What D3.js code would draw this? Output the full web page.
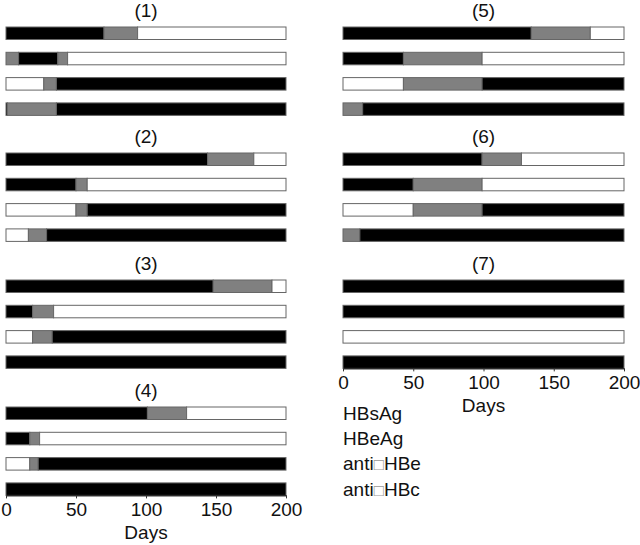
<!DOCTYPE html>
<html>
<head>
<meta charset="utf-8">
<script src="https://cdn.jsdelivr.net/npm/d3@7"></script>
<style>
  html, body { margin: 0; padding: 0; background: #fff; }
  svg { display: block; font-family: "Liberation Sans", Arial, sans-serif; }
</style>
</head>
<body>
<svg id="chart" width="640" height="545"></svg>
<script>
// ---- data ----
const panelTitles = ["(1)", "(2)", "(3)", "(4)", "(5)", "(6)", "(7)"];
const markers = ["HBsAg", "HBeAg", "anti\u25A1HBe", "anti\u25A1HBc"];
const tickValues = [0, 50, 100, 150, 200];
const axisLabel = "Days";
// states: "P" positive (black), "I" intermediate (gray), "N" negative (white)
// each row: list of [start, end, state]
const panel1 = [
  [[0, 70, "P"], [70, 94, "I"], [94, 200, "N"]],
  [[0, 9, "I"], [9, 37, "P"], [37, 44, "I"], [44, 200, "N"]],
  [[0, 27, "N"], [27, 36, "I"], [36, 200, "P"]],
  [[0, 1, "P"], [1, 36, "I"], [36, 200, "P"]]
];
const panel2 = [
  [[0, 144, "P"], [144, 177, "I"], [177, 200, "N"]],
  [[0, 50, "P"], [50, 58, "I"], [58, 200, "N"]],
  [[0, 50, "N"], [50, 58, "I"], [58, 200, "P"]],
  [[0, 16, "N"], [16, 29, "I"], [29, 200, "P"]]
];
const panel3 = [
  [[0, 148, "P"], [148, 190, "I"], [190, 200, "N"]],
  [[0, 19, "P"], [19, 34, "I"], [34, 200, "N"]],
  [[0, 19, "N"], [19, 33, "I"], [33, 200, "P"]],
  [[0, 200, "P"]]
];
const panel4 = [
  [[0, 101, "P"], [101, 129, "I"], [129, 200, "N"]],
  [[0, 17, "P"], [17, 24, "I"], [24, 200, "N"]],
  [[0, 17, "N"], [17, 23, "I"], [23, 200, "P"]],
  [[0, 200, "P"]]
];
const panel5 = [
  [[0, 134, "P"], [134, 176, "I"], [176, 200, "N"]],
  [[0, 43, "P"], [43, 99, "I"], [99, 200, "N"]],
  [[0, 43, "N"], [43, 99, "I"], [99, 200, "P"]],
  [[0, 14, "I"], [14, 200, "P"]]
];
const panel6 = [
  [[0, 99, "P"], [99, 127, "I"], [127, 200, "N"]],
  [[0, 50, "P"], [50, 99, "I"], [99, 200, "N"]],
  [[0, 50, "N"], [50, 99, "I"], [99, 200, "P"]],
  [[0, 12, "I"], [12, 200, "P"]]
];
const panel7 = [
  [[0, 200, "P"]],
  [[0, 200, "P"]],
  [[0, 200, "N"]],
  [[0, 200, "P"]]
];
const panels = [panel1, panel2, panel3, panel4, panel5, panel6, panel7];

// ---- layout ----
const colors = { P: "#000000", I: "#808080", N: "#ffffff" };
const FONT = 19;
const columns = [[6, 286], [343, 624]];
const panelTops = [27, 153, 280, 407];
const rowPitch = 25.3;
const barH = 12.5;

const svg = d3.select("#chart");
const xScales = columns.map(r => d3.scaleLinear().domain([0, 200]).range(r));

panels.forEach((rows, pi) => {
  const col = pi < 4 ? 0 : 1;
  const slot = pi < 4 ? pi : pi - 4;
  const x = xScales[col];
  const top = panelTops[slot];
  const g = svg.append("g");

  g.append("text")
    .attr("x", (x.range()[0] + x.range()[1]) / 2)
    .attr("y", top - 10)
    .attr("text-anchor", "middle")
    .attr("font-size", FONT)
    .attr("fill", "#111")
    .text(panelTitles[pi]);

  rows.forEach((segs, ri) => {
    const y = top + ri * rowPitch;
    g.selectAll(null)
      .data(segs)
      .enter()
      .append("rect")
      .attr("x", d => x(d[0]))
      .attr("y", y)
      .attr("width", d => x(d[1]) - x(d[0]))
      .attr("height", barH)
      .attr("fill", d => colors[d[2]])
      .attr("stroke", "#666")
      .attr("stroke-width", 1);
  });

  const lastPanel = (col === 0 && slot === 3) || (col === 1 && slot === 2);
  if (lastPanel) {
    const axisY = top + 3 * rowPitch + barH;
    const ax = svg.append("g")
      .attr("transform", `translate(0,${axisY})`)
      .call(d3.axisBottom(x).tickValues(tickValues).tickSize(3).tickPadding(4).tickSizeOuter(0));
    ax.selectAll("text").attr("font-size", FONT).attr("fill", "#111")
      .attr("font-family", "'Liberation Sans', Arial, sans-serif");
    ax.select(".domain").attr("stroke", "#000");
    ax.selectAll(".tick line").attr("stroke", "#333");
    svg.append("text")
      .attr("x", (x.range()[0] + x.range()[1]) / 2)
      .attr("y", axisY + 44)
      .attr("text-anchor", "middle")
      .attr("font-size", FONT)
      .attr("fill", "#111")
      .text(axisLabel);
  }
});

// legend (marker names) aligned with rows of panel (4)
markers.forEach((m, i) => {
  const t = svg.append("text")
    .attr("x", 343)
    .attr("y", panelTops[3] + i * rowPitch + barH / 2 + 6.5)
    .attr("font-size", FONT)
    .attr("fill", "#111");
  const parts = m.split("\u25A1");
  if (parts.length === 2) {
    t.append("tspan").text(parts[0]);
    t.append("tspan").attr("fill", "#999").attr("font-size", 17).text("\u25A1");
    t.append("tspan").text(parts[1]);
  } else {
    t.text(m);
  }
});
</script>
</body>
</html>
